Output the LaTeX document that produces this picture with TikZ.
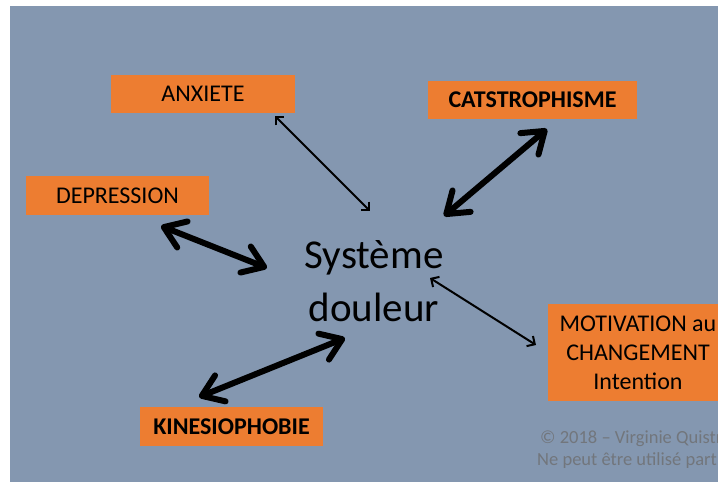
\documentclass[tikz,border=0pt]{standalone}
\usepackage{fontspec}
\setmainfont{Carlito}
\usetikzlibrary{arrows.meta}
\definecolor{fond}{HTML}{8497B0}
\definecolor{boite}{HTML}{ED7D31}
\definecolor{copie}{HTML}{72767C}

\begin{document}
\begin{tikzpicture}[x=1pt,y=-1pt,
   boite/.style={fill=boite,inner sep=0pt,align=center,font=\fontsize{24}{29}\selectfont},
   fin/.style={{Straight Barb[length=6pt,width=12pt]}-{Straight Barb[length=6pt,width=12pt]},line width=2pt},
   gros/.style={{Straight Barb[length=20pt,width=28pt,round]}-{Straight Barb[length=20pt,width=28pt,round]},line width=6pt,line cap=round}]
   \useasboundingbox (0,0) rectangle (718,482);
   \clip (0,0) rectangle (718,482);
   \fill[white] (0,0) rectangle (718,482);
   \fill[fond] (10,6) rectangle (718,482);

   \node[boite,minimum width=184pt,minimum height=38pt] (anx) at (203,94) {ANXIETE};
   \node[boite,minimum width=183pt,minimum height=39pt] (dep) at (117.5,195.5) {DEPRESSION};
   \node[boite,minimum width=209pt,minimum height=38pt] (cat) at (532.5,100) {\bfseries CATSTROPHISME};
   \node[boite,minimum width=180pt,minimum height=97pt] (mot) at (638,352.5) {MOTIVATION au\\CHANGEMENT\\Intention};
   \node[boite,minimum width=183pt,minimum height=39pt] (kin) at (231.5,426.5) {\bfseries KINESIOPHOBIE};
   \node[inner sep=0pt,align=center,font=\fontsize{41}{53}\selectfont] (sys) at (374,281) {Système\\douleur};
   \node[anchor=north west,inner sep=0pt,align=left,text=copie,font=\fontsize{18.5}{22}\selectfont] (copy) at (537,431)
      {\hspace{3pt}© 2018 – Virginie Quistr\\Ne peut être utilisé part};

   % bouts des fleches
   \coordinate (anxA) at (275,116); \coordinate (anxB) at (370,211);
   \coordinate (catA) at (547,129); \coordinate (catB) at (444,216);
   \coordinate (depA) at (161,226); \coordinate (depB) at (267,268);
   \coordinate (motA) at (430,278); \coordinate (motB) at (536,345);
   \coordinate (kinA) at (199,397); \coordinate (kinB) at (345,338);

   \draw[fin] (anxA) -- (anxB);
   \draw[fin] (motA) -- (motB);
   \draw[gros] (catA) -- (catB);
   \draw[gros] (depA) -- (depB);
   \draw[gros] (kinA) -- (kinB);
\end{tikzpicture}
\end{document}
